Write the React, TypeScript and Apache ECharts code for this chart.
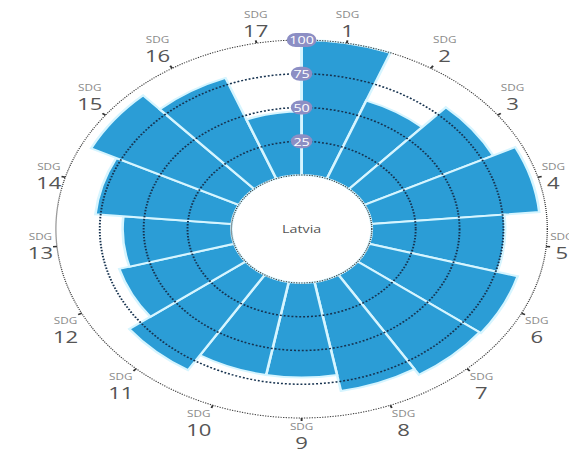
import { useEffect, useRef } from 'react';
import * as echarts from 'echarts';

const categories = ['1', '2', '3', '4', '5', '6', '7', '8', '9', '10', '11', '12', '13', '14', '15', '16', '17'];
const values = [100, 62, 82, 96, 76, 88, 87, 82, 70, 70, 83, 68, 62, 78, 94, 80, 47];
const radiusMin = 0;
const radiusMax = 100;
const radiusStep = 25;
const centerLabel = 'Latvia';
const labelPrefix = 'SDG';

const STRETCH = 1.3;
const W = 569;
const H = 455;

export default function App() {
  const ref = useRef<HTMLDivElement>(null);
  useEffect(() => {
    const el = ref.current!;
    const chart = echarts.init(el, null, { renderer: 'svg', width: Math.round(W / STRETCH), height: H });
    chart.setOption({
      animation: false,
      textStyle: { fontFamily: 'Open Sans' },
      polar: { center: [232, 229], radius: [54, 189] },
      angleAxis: {
        type: 'category',
        data: categories,
        startAngle: 90,
        clockwise: true,
        z: 5,
        axisLine: { show: true, lineStyle: { color: '#3a3a3a', type: 'dotted', width: 1 } },
        axisTick: { show: true, alignWithLabel: true, length: 3, lineStyle: { color: '#333', width: 1.5 } },
        splitLine: { show: false },
        axisLabel: {
          margin: 3,
          formatter: (v: string) => `{s|${labelPrefix}}\n{n|${v}}`,
          rich: {
            s: { fontSize: 9, color: '#8a8a8a', lineHeight: 12, align: 'center', fontFamily: 'Open Sans' },
            n: { fontSize: 17, color: '#555', lineHeight: 20, align: 'center', fontFamily: 'Open Sans' },
          },
        },
      },
      radiusAxis: {
        min: radiusMin,
        max: radiusMax,
        interval: radiusStep,
        z: 5,
        axisLine: { show: true, lineStyle: { color: '#d6f5ff', width: 2 } },
        axisTick: { show: false },
        axisLabel: {
          showMinLabel: false,
          margin: 0,
          align: 'center',
          verticalAlign: 'middle',
          color: '#ffffff',
          backgroundColor: '#8c8ec4',
          borderRadius: 9,
          padding: [2, 2, 1, 2],
          fontSize: 11,
          fontFamily: 'Open Sans',
        },
        splitLine: {
          show: true,
          lineStyle: {
            color: ['rgba(0,0,0,0)', '#16324f', '#16324f', '#16324f', 'rgba(0,0,0,0)'],
            type: 'dotted',
            width: 1.5,
          },
        },
      },
      series: [
        {
          type: 'bar',
          coordinateSystem: 'polar',
          data: values,
          barCategoryGap: '0%',
          z: 2,
          itemStyle: { color: '#2b9dd6', borderColor: '#d6f5ff', borderWidth: 2 },
        },
      ],
      graphic: [
        {
          type: 'text',
          x: 232,
          y: 229,
          style: {
            text: centerLabel,
            align: 'center',
            verticalAlign: 'middle',
            textAlign: 'center',
            textVerticalAlign: 'middle',
            fontSize: 11,
            fill: '#555',
            fontFamily: 'Open Sans',
          },
        },
      ],
    });
    return () => chart.dispose();
  }, []);
  return (
    <div
      ref={ref}
      style={{
        position: 'fixed',
        left: 0,
        top: 0,
        width: Math.round(W / STRETCH),
        height: H,
        transform: `scaleX(${STRETCH})`,
        transformOrigin: '0 0',
        background: '#fff',
      }}
    />
  );
}
